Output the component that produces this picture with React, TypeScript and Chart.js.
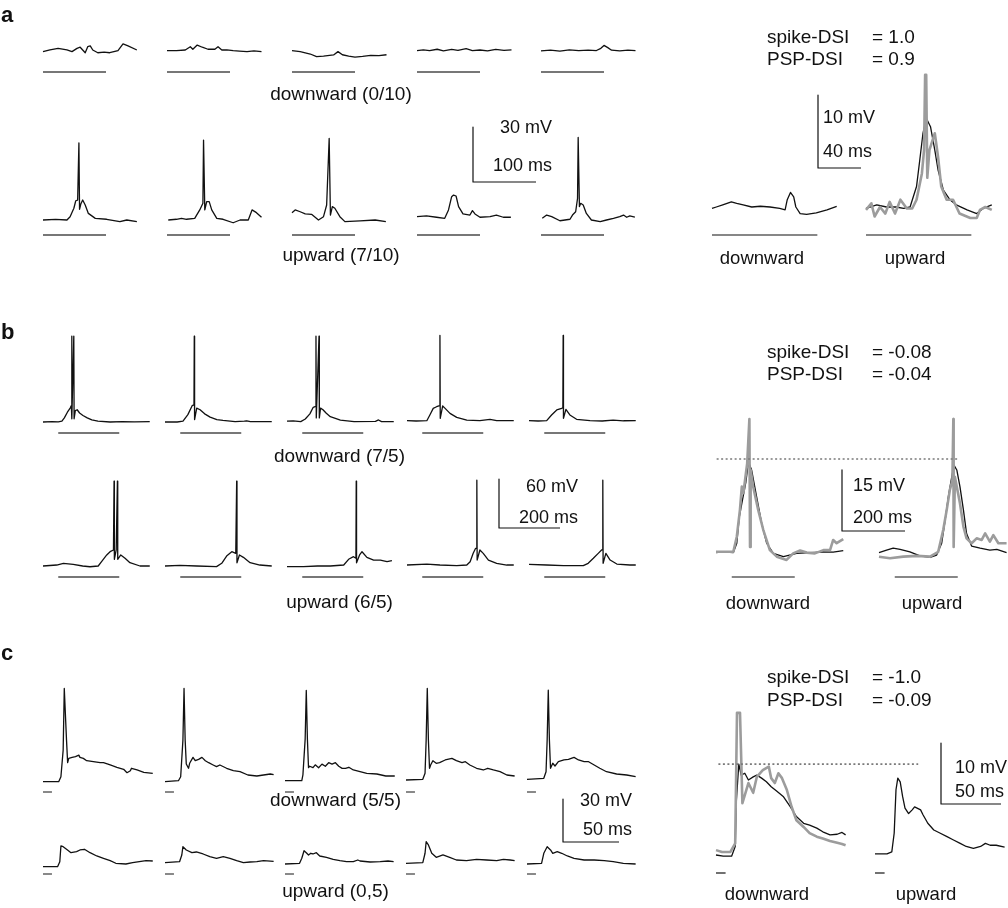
import React, { useEffect, useRef } from "react";
import { Chart, registerables } from "chart.js";

Chart.register(...registerables);

const W = 1008;
const H = 908;

// ================= DATA (time in ms from trace start, membrane potential in mV above rest) =================

// ---- panel a, single trials ----
const aDown1 = [[0,0.2],[11,1.1],[24,2],[38,1.1],[46,0.2],[54,2],[59,2.6],[67,-0.4],[71,2.9],[75,3.3],[79,1.1],[87,-0.4],[97,-0.1],[106,-0.4],[119,0.7],[127,4.4],[135,3.3],[149,1.1]];
const aDown2 = [[0,0.7],[15,0.7],[29,1.1],[37,2.9],[41,1.5],[48,3.8],[56,2.6],[65,1.5],[76,1.5],[81,2.9],[87,1.1],[95,1.2],[105,0.7],[115,0.5],[127,0.2],[138,0.6],[150,0.2]];
const aDown3 = [[0,0.7],[13,0.2],[29,-1.1],[39,-2.5],[50,-2.2],[66,-1.6],[73,0.2],[80,-1.5],[90,-2.2],[100,-2.8],[112,-2.4],[125,-1.8],[138,-2],[150,-1.5]];
const aDown4 = [[0,0.8],[10,1.2],[20,0.7],[32,1.5],[42,0.6],[55,1.4],[65,0.9],[78,1.8],[88,0.8],[100,1.1],[112,0.6],[125,1.4],[138,0.9],[150,1.2]];
const aDown5 = [[0,0.6],[15,1],[30,0.5],[45,1.2],[60,0.7],[75,1],[88,0.8],[95,2],[100,3.6],[106,2.4],[112,1],[125,0.6],[138,1],[150,0.7]];
const aUp1 = [[0,0],[20,0.3],[38,0],[43,1.8],[49,6.4],[52,10.5],[55,10.9],[57,42],[58,5.8],[60,8.7],[63,10.9],[67,8.2],[72,3.6],[83,0.9],[101,0.4],[122,-0.9],[133,0],[149,-0.9]];
const aUp2 = [[2,0],[15,0.4],[23,0.9],[31,0.4],[44,0.9],[52,5.5],[57,9.1],[58,43.6],[60,5.5],[63,10],[67,10],[71,5.5],[79,0.9],[89,0.4],[105,-1.5],[116,0],[129,0],[135,5.5],[142,4],[150,1.5]];
const aUp3 = [[0,4],[5,5.5],[13,4.5],[21,3.3],[31,3.1],[42,0],[50,1.8],[55,8.2],[59,44.5],[61,2.7],[64,7.3],[68,6.4],[76,1.8],[84,-0.9],[108,-0.5],[132,0],[149,-0.9]];
const aUp4 = [[0,1.8],[15,2.2],[31,1.5],[44,0.9],[50,5.5],[55,12.7],[58,13.6],[62,13.1],[66,7.3],[73,3.3],[84,2.7],[88,5.1],[92,3.3],[100,1.5],[116,1.8],[126,2.7],[137,1.5],[149,1.5]];
const aUp5 = [[2,0.9],[9,2.7],[17,1.8],[30,-0.4],[46,0.4],[50,2.7],[55,4.5],[58,11.8],[59,45],[61,7.3],[63,9.1],[67,8.2],[72,3.6],[80,0],[94,-0.9],[104,0],[115,0.9],[125,1.8],[131,2.7],[136,1.5],[141,2.2],[149,1.6]];

// ---- panel a, averages ----
const aAvgDown = [[0,-0.2],[4,0],[10,0.3],[18,0.7],[23,0.5],[29,0.3],[37,0],[45,0.1],[54,0],[63,-0.2],[68,-0.4],[70,1],[73,2],[76,1.4],[78,0],[82,-0.9],[88,-1],[97,-0.8],[107,-0.4],[116,0.1]];
const aAvgUp = [[0,-0.2],[10,0.3],[19,0],[28,0],[35,-0.2],[41,0],[47,2.8],[50,6.4],[53,10.1],[56,12.2],[60,11],[64,7.8],[67,5.1],[72,2.3],[78,1],[84,0.3],[94,-0.4],[103,-0.9],[109,-0.2],[117,0.3]];
const aAvgUpSpikeless = [[0,-0.4],[5,0.5],[8,-1.3],[13,0],[18,-0.9],[22,0.7],[27,-0.9],[32,1],[38,-0.2],[43,-0.2],[47,1],[52,4.6],[54,7.8],[55,18.1],[56,18.1],[57,4],[59,7.8],[62,9.2],[64,10.1],[67,6.9],[70,2.8],[75,1],[81,1],[87,-0.9],[97,-1.5],[103,-1.5],[106,-0.4],[111,0],[117,-0.4]];

// ---- panel b, single trials ----
const bDown1 = [[0,0],[30,0.5],[50,0.2],[62,1],[70,5],[80,12],[89,17],[93,20],[94,105],[95,4],[101,105],[102,4],[106,14],[112,15],[120,11],[131,8],[145,5],[160,2.5],[180,1],[220,0],[260,0.5],[300,0.2],[350,0.5]];
const bDown2 = [[0,0],[40,0],[59,1],[75,9],[89,20],[95,21],[96,105],[97,3],[104,17],[115,15],[130,10],[148,6],[170,3],[190,2],[230,0.5],[260,1],[268,1.5],[280,0.5],[350,0.5]];
const bDown3 = [[0,1],[20,1.5],[45,0.5],[60,3.7],[75,10],[86,18],[94,19],[95,105],[96,5],[105,105],[106,5],[110,17],[118,15],[128,11],[142,6.5],[175,2.4],[220,0.5],[290,0.7],[300,2.5],[310,0.5],[350,0.5]];
const bDown4 = [[0,1.6],[30,1.2],[65,1.6],[75,8.6],[86,16.7],[97,18.7],[107,20],[108,106],[109,4.5],[117,19.6],[125,16.7],[141,10.6],[163,5.7],[196,2.4],[239,1.6],[272,3.3],[294,1.6],[350,1.6]];
const bDown5 = [[0,1.6],[30,1.2],[58,1.6],[74,8.6],[91,14.7],[107,16.7],[111,17.5],[112,106],[113,4.5],[121,15.5],[134,8.6],[156,3.3],[200,1.6],[240,1.2],[276,2.4],[310,1.5],[350,1.6]];
const bUp1 = [[0,0],[45,1.2],[67,3.3],[99,2.1],[130,0],[154,-0.9],[181,0],[192,5.3],[209,13.5],[220,17.5],[231,19.6],[233,104],[234,8.2],[240,19.6],[244,104],[245,8.2],[255,13.5],[269,9.4],[285,4],[318,0],[350,0]];
const bUp2 = [[0,0],[49,0.8],[104,0],[169,-0.8],[186,3.3],[202,12.2],[219,17.5],[232,15.5],[235,104],[236,4],[244,13.5],[257,10.6],[279,4],[311,1.2],[350,0]];
const bUp3 = [[0,-0.8],[54,-0.8],[100,0],[142,0],[186,1.2],[202,8.2],[218,11.4],[226,9.4],[227,104],[228,4],[238,13.5],[246,17.5],[262,10.6],[284,7.3],[306,7.3],[328,5.3],[344,6.5]];
const bUp4 = [[0,1.2],[65,2.4],[108,1.2],[163,0.4],[196,1.2],[207,5.3],[217,15.5],[225,21.7],[228,22],[229,105],[230,7.3],[239,19.6],[250,15.5],[267,7.3],[294,3.3],[327,1.2],[350,1.2]];
const bUp5 = [[0,2],[58,1.2],[113,0.4],[178,0.4],[194,3.3],[211,9.4],[227,15.5],[238,19.6],[241,20],[242,105],[243,3.3],[252,15.5],[266,7.3],[288,2.4],[331,1.2],[350,1.2]];

// ---- panel b, averages ----
const bAvgDown = [[0,0.1],[23,0.3],[55,0.1],[66,2.4],[74,8.9],[85,13.4],[95,17.5],[103,22.4],[113,20.4],[129,13.8],[145,7.3],[161,2.4],[182,-0.1],[214,-0.9],[256,-0.1],[298,0.1],[341,0.3],[372,0.2],[404,0.6]];
const bAvgDownSpikeless = [[0,0.3],[55,0.3],[66,4],[76,10.6],[82,16.3],[87,14.7],[95,19.6],[99,22],[106,32.9],[108,1.5],[110,20.4],[118,16.3],[134,10.6],[150,5.7],[171,0.7],[193,-0.9],[224,-1.7],[245,-0.1],[267,0.6],[288,0.1],[314,-0.1],[341,0.7],[362,0.7],[372,3.2],[383,2.4],[404,3.4]];
const bAvgUp = [[0,0.1],[24,0.7],[45,1.2],[67,0.9],[98,0.3],[130,-0.7],[162,-1.1],[183,-0.5],[199,2.4],[210,8.1],[220,13.8],[231,18.7],[238,21.6],[247,20.4],[257,16.3],[268,10.6],[278,4.8],[294,1.7],[321,1.2],[352,0.7],[374,0.9],[405,0.1]];
const bAvgUpSpikeless = [[0,-0.9],[35,-1.3],[77,-0.9],[120,-0.7],[162,-0.9],[188,0.3],[204,5.7],[215,10.6],[225,15.5],[233,17.9],[236,32.9],[237,1.5],[241,18.7],[247,16.3],[257,12.2],[268,6.5],[278,3.6],[294,2.4],[310,3.6],[326,3.2],[337,4.8],[352,2.8],[363,4.4],[379,2.4],[405,2.4]];
const bPeakLine = [23.1, 254]; // reference level (mV), end time on upward average (ms)

// ---- panel c, single trials ----
const cDown1 = [[0,0.2],[14,0.2],[16,3.7],[18,22.3],[19,65.4],[21,29.3],[22,13.5],[23,16.5],[26,17.2],[29,17.7],[32,18.8],[33,17.2],[36,16.5],[39,14.9],[45,14.2],[51,13.5],[54,13.5],[60,11.9],[66,10.3],[72,8.9],[75,6.5],[78,7.9],[79,9.6],[84,8.4],[90,6.8],[98,6.1]];
const cDown2 = [[0,0.2],[12,0.9],[14,3.7],[16,29.3],[17,65.4],[18,29.3],[19,12.6],[21,9.6],[22,13.1],[25,17.2],[27,14.9],[30,15.8],[33,17.2],[36,14.9],[39,13.5],[43,11.9],[46,10.7],[49,11.9],[55,9.6],[61,7.9],[67,7.2],[74,4.9],[82,4.2],[88,4.9],[94,5.6],[97,5.1]];
const cDown3 = [[0,1],[15,1],[16,5],[18,30],[19,64],[20,30],[21,10],[22,11],[25,10],[27,12],[30,10],[33,12.5],[36,11],[39,13.5],[42,12.5],[45,13.5],[48,11],[51,9.5],[54,9.5],[57,10.3],[61,8.4],[67,7.2],[73,6.1],[82,5.6],[90,4.2],[98,4.2]];
const cDown4 = [[0,1.4],[15,1.9],[17,6.1],[18,29.3],[19,65.4],[20,29.3],[21,9.6],[22,11.9],[24,14.9],[27,13.1],[30,13.5],[35,15.4],[41,16.5],[45,14.9],[50,13.5],[53,14.2],[57,11.9],[63,9.6],[69,8.4],[73,9.6],[78,8.4],[84,7.2],[90,4.9],[97,4.2]];
const cDown5 = [[0,1.9],[15,2.6],[17,7.2],[18,29.3],[19,64.2],[20,29.3],[21,9.6],[23,13.1],[25,11.2],[28,14.2],[33,15.4],[37,15.8],[42,17.2],[46,15.4],[51,14.2],[55,14.2],[60,11.9],[65,9.6],[71,7.2],[80,5.6],[89,4.9],[97,3.7]];
const cUp1 = [[0,0.2],[13,0.2],[15,3.7],[16,14.7],[18,14.2],[21,12.4],[25,10],[30,10.7],[33,11.9],[37,12.4],[42,10],[48,7.7],[54,6.1],[60,4.4],[65,2.6],[74,2.1],[80,3],[86,3.7],[92,4.4],[98,4.2]];
const cUp2 = [[0,3],[13,3.7],[15,8.4],[16,14.2],[19,11.9],[24,10],[28,10.5],[34,9.1],[40,7.2],[46,6.1],[52,7.2],[58,6.1],[64,4.4],[70,3],[76,3.5],[82,3.7],[88,4.4],[97,4]];
const cUp3 = [[0,2.1],[13,2.6],[15,6.1],[17,11.4],[19,10],[21,8.4],[23,9.6],[25,9.1],[28,10],[31,7.7],[37,6.8],[43,5.4],[49,4.4],[55,3.7],[61,3.7],[65,4.9],[67,4.2],[76,3.5],[85,3.7],[92,4.2],[97,3.7]];
const cUp4 = [[0,2.6],[15,3],[17,9.6],[18,17.7],[20,15.4],[23,9.6],[27,6.8],[33,8.4],[39,6.8],[45,4.9],[54,4.4],[63,5.4],[72,4.9],[81,4.4],[87,5.4],[93,4.9],[97,4.4]];
const cUp5 = [[0,2.1],[13,2.6],[15,9.6],[18,14.2],[21,11.9],[23,9.6],[27,10.7],[31,9.6],[36,7.7],[42,6.1],[51,4.9],[60,4.9],[69,4.4],[77,3.7],[86,2.6],[97,2.1]];

// ---- panel c, averages ----
const cAvgDown = [[0,0],[6,-0.2],[13,-0.2],[16,1.4],[17,9],[19,14.9],[21,13.1],[24,13.4],[27,12.3],[31,12.8],[34,13.1],[38,12.6],[42,12],[46,11.2],[51,10.4],[56,9.6],[62,7.9],[67,6.3],[73,5.2],[78,4.9],[84,4.4],[89,3.8],[95,3.3],[101,3.4],[105,3.7],[108,3.3]];
const cAvgDownSpikeless = [[0,0.8],[5,0.5],[12,0.5],[16,1.9],[17.5,23.3],[20,23.3],[22,8.5],[27,11.8],[31,10.2],[34,12.8],[39,13.9],[44,14.5],[46,12.6],[49,11.8],[52,13.4],[55,12.6],[59,10.7],[63,7.9],[67,5.7],[73,4.6],[78,3.6],[84,3],[89,2.7],[95,2.3],[101,2],[105,1.8],[108,1.6]];
const cAvgUp = [[0,0.2],[10,0.2],[14,0.5],[16,3.6],[17.5,10.7],[19,12.6],[21,12],[23,9.6],[25,7.7],[28,6.8],[31,7.4],[33,7.9],[38,7.4],[40,6.6],[44,5.2],[49,4.1],[54,3.6],[60,3],[65,2.5],[71,1.9],[76,1.4],[82,1.1],[88,1.4],[92,1.9],[96,1.6],[101,1.6],[108,1.3]];
const cPeakLine = [14.9, 36];

// ---- stimulus windows (ms) and scale bars (mV, ms) ----
const stimSmall = [[0, 100], [50, 250], [0, 8]];
const stimAvg = [[0, 98], [50, 250], [0, 8]];
const scaleSmall = [[30, 100], [60, 200], [30, 50]];
const scaleAvg = [[10, 40], [15, 200], [10, 50]];

// ---- text ----
const panelLetters = ["a", "b", "c"];
const conditions = ["downward", "upward"];
const trialCounts = [["0/10", "7/10"], ["7/5", "6/5"], ["5/5", "0,5"]];
const dsiNames = ["spike-DSI", "PSP-DSI"];
const dsiValues = [["1.0", "0.9"], ["-0.08", "-0.04"], ["-1.0", "-0.09"]];

const panelsSmall = [
  [[aDown1, aDown2, aDown3, aDown4, aDown5], [aUp1, aUp2, aUp3, aUp4, aUp5]],
  [[bDown1, bDown2, bDown3, bDown4, bDown5], [bUp1, bUp2, bUp3, bUp4, bUp5]],
  [[cDown1, cDown2, cDown3, cDown4, cDown5], [cUp1, cUp2, cUp3, cUp4, cUp5]],
];
const panelsAvg = [
  { down: aAvgDown, downGrey: null, up: aAvgUp, upGrey: aAvgUpSpikeless, peak: null },
  { down: bAvgDown, downGrey: bAvgDownSpikeless, up: bAvgUp, upGrey: bAvgUpSpikeless, peak: bPeakLine },
  { down: cAvgDown, downGrey: cAvgDownSpikeless, up: cAvgUp, upGrey: null, peak: cPeakLine },
];

// ================= LAYOUT (pixels) =================
type G = { x0: number[]; base: number[]; bar: number[]; msPx: number; mvPx: number; sb: number[] };
const LAY_SMALL: G[] = [
  { x0: [43, 167, 292, 417, 541], base: [52, 220], bar: [72, 235], msPx: 0.63, mvPx: 1.833, sb: [473, 182] },
  { x0: [43, 165, 287, 407, 529], base: [422, 566], bar: [433, 577], msPx: 0.305, mvPx: 0.817, sb: [499, 528] },
  { x0: [43, 165, 285, 406, 527], base: [782, 867], bar: [792, 874], msPx: 1.12, mvPx: 1.43, sb: [563, 842] },
];
const LAY_AVG: G[] = [
  { x0: [712, 866], base: [207], bar: [235], msPx: 1.075, mvPx: 7.3, sb: [818, 168] },
  { x0: [716, 879], base: [553], bar: [577], msPx: 0.315, mvPx: 4.07, sb: [842, 531] },
  { x0: [716, 875], base: [855], bar: [873], msPx: 1.2, mvPx: 6.1, sb: [941, 804] },
];
const LAY_TEXT = {
  letters: [23, 340, 661],
  condCenter: [341, 339.5, 335.5],
  condBase: [[100, 261], [462, 608], [806, 897]],
  dsiX: [767, 872],
  dsiBase: [[43.5, 65.5], [358, 380.5], [683.5, 706.5]],
  smallScale: [[552, 133, 171.5], [578, 492.5, 523], [632, 806.7, 835.7]],
  avgScale: [[823, 123, 157], [853, 491, 523], [955, 773, 797]],
  avgLabel: [[762, 915, 265], [768, 932, 610], [767, 926, 901]],
};

const FONT = '"Liberation Sans", Arial, Helvetica, sans-serif';
const FS = 18;
const FS_LABEL = 19;
const BLACK = "#111111";
const GREY = "#9c9c9c";
const BAR = "#4a4a4a";

function lin(axis: string, min: number, max: number) {
  return { type: "linear", axis, min, max, display: false, bounds: "data", grid: { display: false }, ticks: { display: false } };
}

function addScales(scales: any, key: string, g: G) {
  g.x0.forEach((x0, i) => (scales[`x_${key}_${i}`] = lin("x", -x0 / g.msPx, (W - x0) / g.msPx)));
  g.base.forEach((b, r) => (scales[`y_${key}_${r}`] = lin("y", (b - H) / g.mvPx, b / g.mvPx)));
  g.bar.forEach((b, r) => (scales[`s_${key}_${r}`] = lin("y", (b - H) / g.mvPx, b / g.mvPx)));
  scales[`u_${key}`] = lin("x", -g.sb[0] / g.msPx, (W - g.sb[0]) / g.msPx);
  scales[`v_${key}`] = lin("y", (g.sb[1] - H) / g.mvPx, g.sb[1] / g.mvPx);
}

function line(points: number[][], xId: string, yId: string, color: string, width: number, dash: number[] = []) {
  return {
    data: points.map(([x, y]) => ({ x, y })),
    xAxisID: xId,
    yAxisID: yId,
    showLine: true,
    borderColor: color,
    backgroundColor: color,
    borderWidth: width,
    borderDash: dash,
    pointRadius: 0,
    pointHoverRadius: 0,
    tension: 0,
    fill: false,
    borderJoinStyle: "round",
    borderCapStyle: "butt",
  };
}

function buildConfig() {
  const scales: any = {};
  const datasets: any[] = [];
  panelsSmall.forEach((rows, p) => {
    const key = `S${p}`;
    const g = LAY_SMALL[p];
    addScales(scales, key, g);
    rows.forEach((row, r) =>
      row.forEach((tr, i) => {
        datasets.push(line(tr, `x_${key}_${i}`, `y_${key}_${r}`, BLACK, 1.3));
        datasets.push(line([[stimSmall[p][0], 0], [stimSmall[p][1], 0]], `x_${key}_${i}`, `s_${key}_${r}`, BAR, 1.3));
      })
    );
    const [mv, ms] = scaleSmall[p];
    datasets.push(line([[0, mv], [0, 0], [ms, 0]], `u_${key}`, `v_${key}`, BLACK, 1.2));
  });
  panelsAvg.forEach((av, p) => {
    const key = `A${p}`;
    const g = LAY_AVG[p];
    addScales(scales, key, g);
    if (av.peak) {
      const end = (g.x0[1] - g.x0[0]) / g.msPx + av.peak[1];
      datasets.push(line([[2, av.peak[0]], [end, av.peak[0]]], `x_${key}_0`, `y_${key}_0`, "#7a7a7a", 1.6, [2, 2.5]));
    }
    if (av.downGrey) datasets.push(line(av.downGrey, `x_${key}_0`, `y_${key}_0`, GREY, 2.6));
    datasets.push(line(av.down, `x_${key}_0`, `y_${key}_0`, BLACK, 1.3));
    if (av.upGrey) datasets.push(line(av.upGrey, `x_${key}_1`, `y_${key}_0`, GREY, 2.6));
    datasets.push(line(av.up, `x_${key}_1`, `y_${key}_0`, BLACK, 1.3));
    [0, 1].forEach((i) =>
      datasets.push(line([[stimAvg[p][0], 0], [stimAvg[p][1], 0]], `x_${key}_${i}`, `s_${key}_0`, BLACK, 1.2))
    );
    const [mv, ms] = scaleAvg[p];
    datasets.push(line([[0, mv], [0, 0], [ms, 0]], `u_${key}`, `v_${key}`, BLACK, 1.2));
  });
  return {
    type: "scatter",
    data: { datasets },
    options: {
      animation: false,
      responsive: false,
      devicePixelRatio: 1,
      events: [],
      layout: { padding: 0 },
      plugins: { legend: { display: false }, tooltip: { enabled: false }, title: { display: false } },
      scales,
    },
  };
}

function Txt(props: { t: string; x: number; base: number; align?: string; size?: number; bold?: boolean }) {
  const { t, x, base, align = "left", size = FS, bold = false } = props;
  const top = base - 0.8465 * size;
  const tx = align === "center" ? "translateX(-50%)" : align === "right" ? "translateX(-100%)" : "none";
  return (
    <div
      style={{
        position: "absolute",
        left: x,
        top,
        fontSize: size,
        lineHeight: `${size}px`,
        fontFamily: FONT,
        fontWeight: bold ? 700 : 400,
        color: "#111",
        whiteSpace: "nowrap",
        transform: tx,
      }}
    >
      {t}
    </div>
  );
}

export default function App() {
  const ref = useRef<HTMLCanvasElement | null>(null);
  useEffect(() => {
    if (!ref.current) return;
    const chart = new Chart(ref.current, buildConfig() as any);
    return () => chart.destroy();
  }, []);

  const texts: any[] = [];
  panelLetters.forEach((l, p) => texts.push(<Txt key={`L${p}`} t={l} x={1} base={LAY_TEXT.letters[p]} size={22} bold />));
  trialCounts.forEach((pair, p) =>
    pair.forEach((cnt, r) =>
      texts.push(
        <Txt key={`C${p}${r}`} t={`${conditions[r]} (${cnt})`} x={LAY_TEXT.condCenter[p]} base={LAY_TEXT.condBase[p][r]} align="center" size={FS_LABEL} />
      )
    )
  );
  dsiValues.forEach((vals, p) =>
    vals.forEach((v, r) => {
      texts.push(<Txt key={`D${p}${r}a`} t={dsiNames[r]} x={LAY_TEXT.dsiX[0]} base={LAY_TEXT.dsiBase[p][r]} size={FS_LABEL} />);
      texts.push(<Txt key={`D${p}${r}b`} t={`= ${v}`} x={LAY_TEXT.dsiX[1]} base={LAY_TEXT.dsiBase[p][r]} size={FS_LABEL} />);
    })
  );
  scaleSmall.forEach(([mv, ms], p) => {
    const [rx, b1, b2] = LAY_TEXT.smallScale[p];
    texts.push(<Txt key={`SS${p}a`} t={`${mv} mV`} x={rx} base={b1} align="right" />);
    texts.push(<Txt key={`SS${p}b`} t={`${ms} ms`} x={rx} base={b2} align="right" />);
  });
  scaleAvg.forEach(([mv, ms], p) => {
    const [lx, b1, b2] = LAY_TEXT.avgScale[p];
    texts.push(<Txt key={`SA${p}a`} t={`${mv} mV`} x={lx} base={b1} />);
    texts.push(<Txt key={`SA${p}b`} t={`${ms} ms`} x={lx} base={b2} />);
  });
  LAY_TEXT.avgLabel.forEach(([cd, cu, b], p) => {
    texts.push(<Txt key={`AL${p}a`} t={conditions[0]} x={cd} base={b} align="center" size={18.5} />);
    texts.push(<Txt key={`AL${p}b`} t={conditions[1]} x={cu} base={b} align="center" size={18.5} />);
  });

  return (
    <div style={{ position: "absolute", left: 0, top: 0, width: W, height: H, background: "#fff", overflow: "hidden" }}>
      <canvas ref={ref} width={W} height={H} style={{ position: "absolute", left: 0, top: 0, width: W, height: H }} />
      {texts}
    </div>
  );
}
